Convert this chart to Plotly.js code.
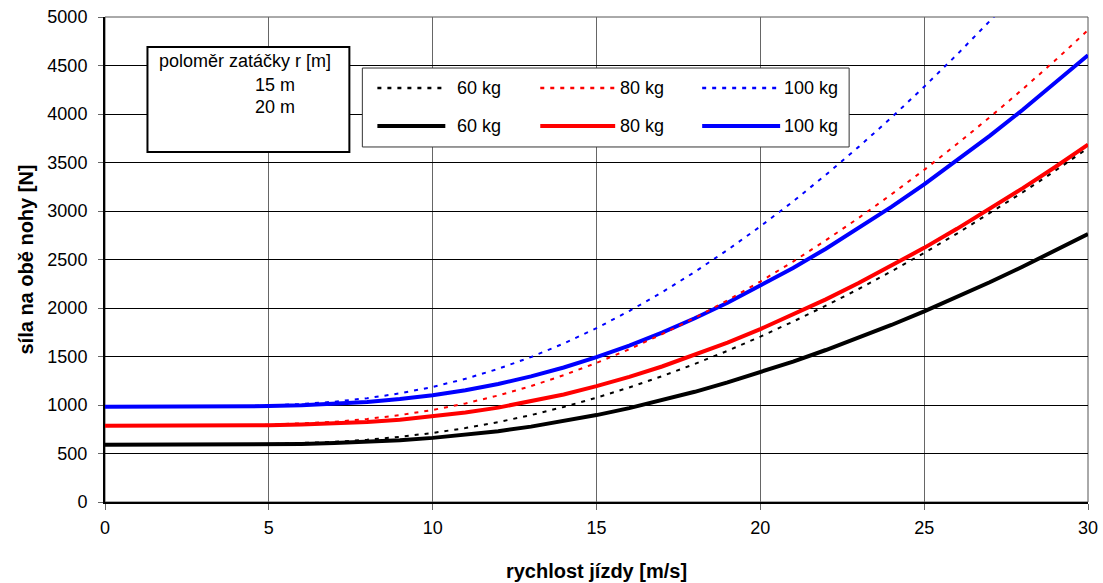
<!DOCTYPE html>
<html>
<head>
<meta charset="utf-8">
<script src="https://cdn.plot.ly/plotly-3.0.1.min.js"></script>
<style>
html,body{margin:0;padding:0;background:#fff;}
#chart{width:1103px;height:583px;}
</style>
</head>
<body>
<div id="chart"></div>
<script>
// speed [m/s]
var speed = [0,1,2,3,4,5,6,7,8,9,10,11,12,13,14,15,16,17,18,19,20,21,22,23,24,25,26,27,28,29,30];
// curve radius 15 m (dashed)
var r15_60  = [589,589,589,590,592,597,606,620,642,672,712,762,824,896,980,1075,1181,1297,1423,1559,1705,1860,2024,2196,2378,2568,2767,2975,3191,3415,3648];
var r15_80  = [785,785,785,786,789,796,808,827,856,896,949,1016,1098,1195,1307,1434,1575,1730,1898,2079,2273,2479,2698,2928,3171,3424,3690,3966,4254,4553,4864];
var r15_100 = [981,981,981,983,987,995,1010,1034,1070,1120,1186,1270,1373,1494,1634,1792,1969,2162,2372,2599,2841,3099,3373,3661,3963,4281,4612,4958,5318];
// curve radius 20 m (solid)
var r20_60  = [589,589,589,589,591,593,598,607,619,637,661,692,730,777,832,896,968,1048,1136,1233,1337,1448,1567,1693,1825,1965,2112,2265,2425,2591,2763];
var r20_80  = [785,785,785,786,787,791,798,809,825,849,881,922,973,1036,1109,1194,1290,1397,1515,1643,1782,1931,2089,2257,2434,2620,2816,3020,3233,3454,3685];
var r20_100 = [981,981,981,982,984,989,997,1011,1032,1061,1101,1153,1217,1295,1387,1493,1613,1747,1894,2054,2228,2413,2611,2821,3042,3275,3519,3775,4041,4318,4606];

var massLabels = ['60 kg','80 kg','100 kg'];
var colors = ['#000000','#ff0000','#0000ff'];
var radiusLabels = ['poloměr zatáčky r [m]','15 m','20 m'];
var xTickVals = [0,5,10,15,20,25,30];
var yTickVals = [0,500,1000,1500,2000,2500,3000,3500,4000,4500,5000];

var dashedSeries = [r15_60, r15_80, r15_100];
var solidSeries = [r20_60, r20_80, r20_100];

var traces = [];
solidSeries.forEach(function(s, i){
  traces.push({x: speed.slice(0, s.length), y: s, type:'scatter', mode:'lines', name:'20 m ' + massLabels[i],
    line:{color:colors[i], width:4}, hoverinfo:'x+y'});
});
dashedSeries.forEach(function(s, i){
  traces.push({x: speed.slice(0, s.length), y: s, type:'scatter', mode:'lines', name:'15 m ' + massLabels[i],
    line:{color:colors[i], width:2, dash:'4px,6px'}, hoverinfo:'x+y'});
});

var FONT = 'Liberation Sans, Arial, sans-serif';
var shapes = [];
var annotations = [];

// plot frame (top/right)
shapes.push({type:'rect', xref:'paper', yref:'paper', x0:0, x1:1, y0:0, y1:1, line:{color:'#555', width:1}, layer:'below'});

// radius box
shapes.push({type:'rect', xref:'paper', yref:'paper', x0:0.0432, x1:0.2486, y0:0.7216, y1:0.9381,
  fillcolor:'#ffffff', line:{color:'#000', width:2}, layer:'above'});
annotations.push({xref:'paper', yref:'paper', x:0.0524, y:0.9093, xanchor:'left', yanchor:'middle', showarrow:false,
  text:radiusLabels[0], font:{family:FONT, size:18, color:'#000'}});
annotations.push({xref:'paper', yref:'paper', x:0.1510, y:0.8598, xanchor:'left', yanchor:'middle', showarrow:false,
  text:radiusLabels[1], font:{family:FONT, size:18, color:'#000'}});
annotations.push({xref:'paper', yref:'paper', x:0.1510, y:0.8144, xanchor:'left', yanchor:'middle', showarrow:false,
  text:radiusLabels[2], font:{family:FONT, size:18, color:'#000'}});

// mass legend box
shapes.push({type:'rect', xref:'paper', yref:'paper', x0:0.2618, x1:0.7570, y0:0.7320, y1:0.8948,
  fillcolor:'#ffffff', line:{color:'#333', width:1}, layer:'above'});
var colX = [[0.2771,0.3462,0.3560],[0.4428,0.5190,0.5215],[0.6075,0.6868,0.6885]];
var rowY = [0.8536, 0.7753];
for (var i=0;i<3;i++){
  shapes.push({type:'line', xref:'paper', yref:'paper', x0:colX[i][0], x1:colX[i][1], y0:rowY[0], y1:rowY[0],
    line:{color:colors[i], width:2.5, dash:'4px,6px'}, layer:'above'});
  shapes.push({type:'line', xref:'paper', yref:'paper', x0:colX[i][0], x1:colX[i][1], y0:rowY[1], y1:rowY[1],
    line:{color:colors[i], width:4}, layer:'above'});
  for (var r=0;r<2;r++){
    annotations.push({xref:'paper', yref:'paper', x:colX[i][2], y:rowY[r], xanchor:'left', yanchor:'middle', showarrow:false,
      text:massLabels[i], font:{family:FONT, size:18, color:'#000'}});
  }
}

var layout = {
  width:1103, height:583,
  margin:{l:104.5, r:15, t:17, b:81, pad:0},
  paper_bgcolor:'#ffffff', plot_bgcolor:'#ffffff',
  showlegend:false,
  font:{family:FONT, size:18, color:'#000'},
  xaxis:{
    range:[0,30], tickmode:'array', tickvals:xTickVals, ticktext:xTickVals.map(String),
    showgrid:true, gridcolor:'#666', gridwidth:1,
    showline:true, linecolor:'#000', linewidth:1.5,
    ticks:'outside', ticklen:6, tickcolor:'#666', tickwidth:1,
    ticklabelstandoff:3,
    zeroline:false, automargin:false,
    tickfont:{family:FONT, size:18, color:'#000'},
    title:{text:'rychlost jízdy [m/s]', font:{family:FONT, size:20, color:'#000', weight:'bold'}, standoff:27}
  },
  yaxis:{
    range:[0,5000], tickmode:'array', tickvals:yTickVals, ticktext:yTickVals.map(String),
    showgrid:true, gridcolor:'#000', gridwidth:1,
    showline:true, linecolor:'#000', linewidth:2,
    ticks:'outside', ticklen:5, tickcolor:'#666', tickwidth:1,
    ticklabelstandoff:7,
    zeroline:false, automargin:false,
    tickfont:{family:FONT, size:18, color:'#000'},
    title:{text:'síla na obě nohy [N]', font:{family:FONT, size:20, color:'#000', weight:'bold'}, standoff:8}
  },
  shapes:shapes,
  annotations:annotations
};

Plotly.newPlot('chart', traces, layout, {displayModeBar:false, staticPlot:true});
</script>
</body>
</html>
